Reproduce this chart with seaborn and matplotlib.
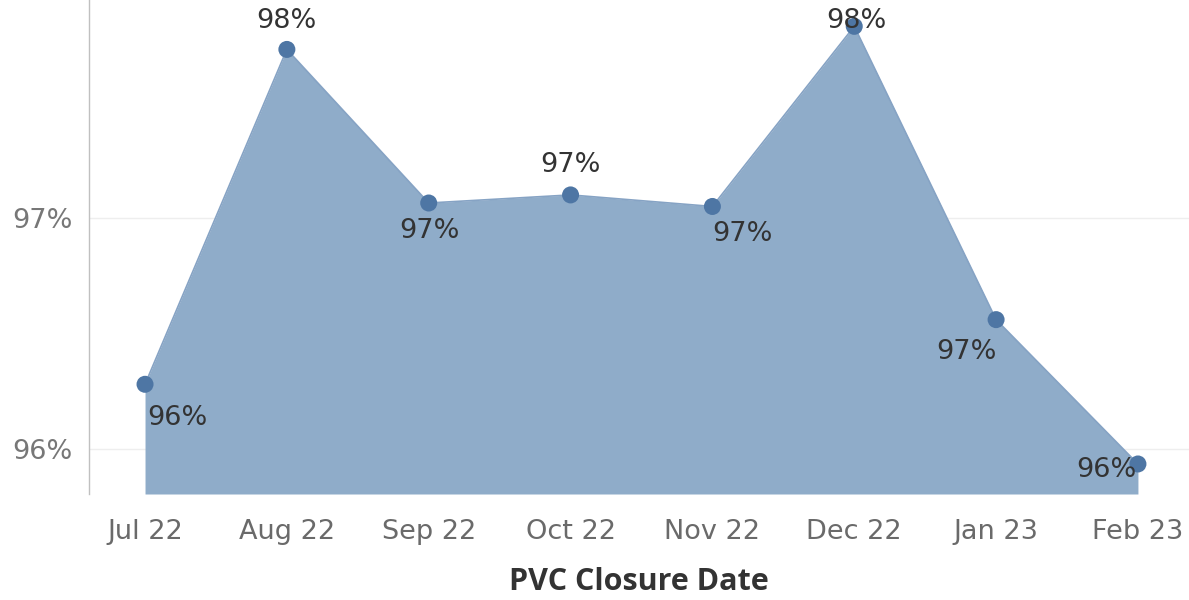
import matplotlib
matplotlib.use("Agg")
import matplotlib.pyplot as plt
import seaborn as sns
import pandas as pd
import numpy as np

months = ["Jul 22", "Aug 22", "Sep 22", "Oct 22", "Nov 22", "Dec 22", "Jan 23", "Feb 23"]
values = [96.28, 97.73, 97.065, 97.10, 97.05, 97.83, 96.56, 95.935]
labels = ["96%", "98%", "97%", "97%", "97%", "98%", "97%", "96%"]
y_ticks = [96, 97]
y_tick_labels = ["96%", "97%"]

sns.set_style("white")
plt.rcParams['font.family'] = ['DejaVu Sans']

fig = plt.figure(figsize=(11.89, 6.0), dpi=100)
ax = fig.add_axes([89/1189, 106/600, 1 - 89/1189, 494/600])

df = pd.DataFrame({"month": months, "x": np.arange(len(months)), "value": values})
ymin = 95.805
ax.fill_between(df["x"], ymin, df["value"], color="#8facc9", alpha=1.0, zorder=1, linewidth=0)
sns.lineplot(data=df, x="x", y="value", ax=ax, color="#86a3c4", linewidth=1.2, zorder=2)
sns.scatterplot(data=df, x="x", y="value", ax=ax, color="#4e76a4", s=150, edgecolor="none", zorder=3)

# label offsets in pixels: (dx, dy, ha)
offs = [(2, -34, "left"), (0, 28, "center"), (1, -28, "center"), (0, 30, "center"),
        (0, -28, "left"), (2, 5, "center"), (1, -32, "right"), (-1, -6, "right")]
for i, (v, lab) in enumerate(zip(values, labels)):
    dx, dy, ha = offs[i]
    ax.annotate(lab, (i, v), xytext=(dx, dy), textcoords="offset pixels", ha=ha, va="center",
                fontsize=19.5, color="#333333", zorder=4)

ax.set_xlim(-0.395, 7.36)
ax.set_ylim(ymin, 97.944)
ax.set_xticks(range(len(months)))
ax.set_xticklabels(months, fontsize=19.5, color="#6a6a6a")
ax.tick_params(axis="x", length=0, pad=18)
ax.set_yticks(y_ticks)
ax.set_yticklabels(y_tick_labels, fontsize=19.5, color="#777777")
ax.tick_params(axis="y", length=0, pad=12)
ax.grid(axis="y", color="#eeeeee", linewidth=1, zorder=0)
ax.set_axisbelow(True)
for s in ["top", "right", "bottom"]:
    ax.spines[s].set_visible(False)
ax.spines["left"].set_color("#c0c0c0")
ax.spines["left"].set_linewidth(1)
ax.set_xlabel("PVC Closure Date", fontsize=22, fontweight="bold", color="#333333",
              labelpad=16, family=["Open Sans", "DejaVu Sans"])
ax.set_ylabel("")

fig.savefig("out.png", dpi=100)
